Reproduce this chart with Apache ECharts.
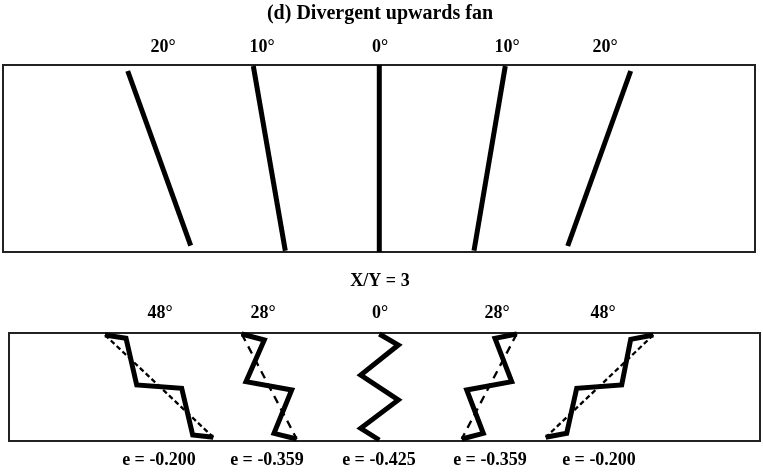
<!DOCTYPE html>
<html><head><meta charset="utf-8">
<script src="https://cdn.jsdelivr.net/npm/echarts@6/dist/echarts.min.js"></script>
<style>html,body{margin:0;padding:0;background:#fff}#c{width:763px;height:473px}</style>
</head><body><div id="c"></div>
<script>
// ---- text content ----
const titleText = '(d) Divergent upwards fan';
const topAngleLabels = ['20°', '10°', '0°', '10°', '20°'];
const topLabelX = [163, 262, 380, 507, 605];
const ratioLabel = 'X/Y = 3';
const bottomAngleLabels = ['48°', '28°', '0°', '28°', '48°'];
const bottomLabelX = [160, 263, 380, 497, 603];
const eLabels = ['e = -0.200', 'e = -0.359', 'e = -0.425', 'e = -0.359', 'e = -0.200'];
const eLabelX = [159, 267, 379, 490, 599];

// ---- top panel: fan lines (x,y) endpoints ----
const fan20L = [[127.7, 71], [190.7, 245.7]];
const fan10L = [[253.3, 66], [285.3, 250.7]];
const fan0 = [[379.3, 65], [379.3, 252]];
const fan10R = [[505.3, 66], [474, 250.7]];
const fan20R = [[630.7, 71], [567.7, 246]];

// ---- bottom panel: folded zigzags and reference (dashed) lines ----
const zig48L = [[105, 335], [126, 338.3], [136.7, 385], [181.7, 388.3], [192.7, 435], [213.3, 437.3]];
const ref48L = [[105, 335], [213.3, 437.3]];
const zig28L = [[241.7, 334], [264.3, 340], [246, 381.7], [291.7, 390], [274, 433.3], [296.7, 439]];
const ref28L = [[241.7, 334], [296.7, 439]];
const zig0 = [[379.3, 334], [398.3, 345], [360.7, 375], [398.3, 400], [360.7, 428.3], [379.3, 440]];
const zig28R = [[516.7, 334], [495, 338.3], [511.7, 381.7], [466.7, 390], [483.3, 433.3], [461.7, 439]];
const ref28R = [[516.7, 334], [461.7, 439]];
const zig48R = [[653.3, 335], [630.7, 339.3], [621.7, 385], [576.7, 388.3], [566.7, 433.3], [545.7, 437.3]];
const ref48R = [[653.3, 335], [545.7, 437.3]];

const FONT = 'Liberation Serif';
const chart = echarts.init(document.getElementById('c'), null, {renderer: 'canvas'});

function solid(data, xi, w) {
  return {type: 'line', xAxisIndex: xi, yAxisIndex: xi, data: data, showSymbol: false, symbol: 'none',
    clip: false, silent: true, animation: false, z: 3,
    lineStyle: {color: '#000', width: w, join: 'miter', cap: 'butt', opacity: 1}};
}
function dashed(data, xi, dash) {
  return {type: 'line', xAxisIndex: xi, yAxisIndex: xi, data: data, showSymbol: false, symbol: 'none',
    clip: false, silent: true, animation: false, z: 2,
    lineStyle: {color: '#000', width: 2.3, type: dash, opacity: 1}};
}
function texts(labels, xs, y, size) {
  return {type: 'scatter', xAxisIndex: 2, yAxisIndex: 2, symbolSize: 0, clip: false, silent: true, animation: false,
    itemStyle: {opacity: 1},
    data: labels.map((t, i) => ({name: t, value: [xs[i], y]})),
    label: {show: true, position: 'inside', formatter: p => p.name, color: '#000', opacity: 1,
      textBorderWidth: 0, fontFamily: FONT, fontWeight: 'bold', fontSize: size}};
}

const option = {
  backgroundColor: '#fff',
  animation: false,
  grid: [
    {left: 3, top: 65, width: 752, height: 187, show: true, borderColor: '#222', borderWidth: 2, backgroundColor: 'transparent'},
    {left: 9, top: 333, width: 751, height: 108, show: true, borderColor: '#222', borderWidth: 2, backgroundColor: 'transparent'},
    {left: 0, top: 0, width: 763, height: 473, show: false}
  ],
  xAxis: [
    {gridIndex: 0, type: 'value', min: 3, max: 755, show: false},
    {gridIndex: 1, type: 'value', min: 9, max: 760, show: false},
    {gridIndex: 2, type: 'value', min: 0, max: 763, show: false}
  ],
  yAxis: [
    {gridIndex: 0, type: 'value', min: 65, max: 252, inverse: true, show: false},
    {gridIndex: 1, type: 'value', min: 333, max: 441, inverse: true, show: false},
    {gridIndex: 2, type: 'value', min: 0, max: 473, inverse: true, show: false}
  ],
  series: [
    solid(fan20L, 0, 5), solid(fan10L, 0, 5), solid(fan0, 0, 5), solid(fan10R, 0, 5), solid(fan20R, 0, 5),
    dashed(ref48L, 1, [5, 3]), dashed(ref28L, 1, [8, 6]), dashed(ref28R, 1, [8, 6]), dashed(ref48R, 1, [5, 3]),
    solid(zig48L, 1, 5), solid(zig28L, 1, 5), solid(zig0, 1, 5), solid(zig28R, 1, 5), solid(zig48R, 1, 5),
    texts([titleText], [380], 14, 20),
    texts(topAngleLabels, topLabelX, 47, 18),
    texts([ratioLabel], [380], 281, 18),
    texts(bottomAngleLabels, bottomLabelX, 313, 18),
    texts(eLabels, eLabelX, 460, 18)
  ]
};
chart.setOption(option);
</script>
</body></html>
